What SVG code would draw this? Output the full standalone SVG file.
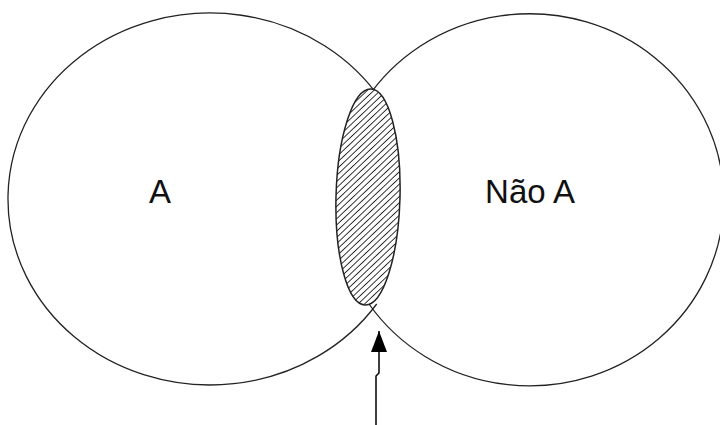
<svg xmlns="http://www.w3.org/2000/svg" width="720" height="425" viewBox="0 0 720 425">
<style>
.set{fill:none;stroke:#222;stroke-width:1.3}
.lbl{font-family:"Liberation Sans",Arial,sans-serif;font-size:33px;fill:#111;text-anchor:middle}
</style>
<defs>
<pattern id="hatch" patternUnits="userSpaceOnUse" width="4.5" height="4.5" patternTransform="rotate(-45)">
<rect width="4.5" height="4.5" fill="#fff"/>
<line x1="0" y1="2.25" x2="4.5" y2="2.25" stroke="#222" stroke-width="0.9"/>
</pattern>
<marker id="arr" markerWidth="21" markerHeight="16" refX="21" refY="8" orient="auto" markerUnits="userSpaceOnUse" viewBox="0 0 21 16">
<path d="M0,0 L21,8 L0,16 Z" fill="#000"/>
</marker>
</defs>
<rect width="720" height="425" fill="#fff"/>
<g id="setA">
<path class="set" d="M381,100 A202,186 0 1 0 376.7,304"/>
<text class="lbl" x="160" y="203">A</text>
</g>
<g id="setNotA">
<path class="set" d="M366,100 A194,186 0 1 1 369,304"/>
<text class="lbl" x="530" y="203">Não A</text>
</g>
<g id="intersection">
<ellipse cx="368" cy="197" rx="32" ry="108" transform="rotate(1.5 368 197)" fill="url(#hatch)" stroke="#222" stroke-width="1.5"/>
</g>
<g id="connectors">
<polyline points="376,425 376,376 379,373 379,331" fill="none" stroke="#000" stroke-width="1.5" marker-end="url(#arr)"/>
</g>
</svg>
